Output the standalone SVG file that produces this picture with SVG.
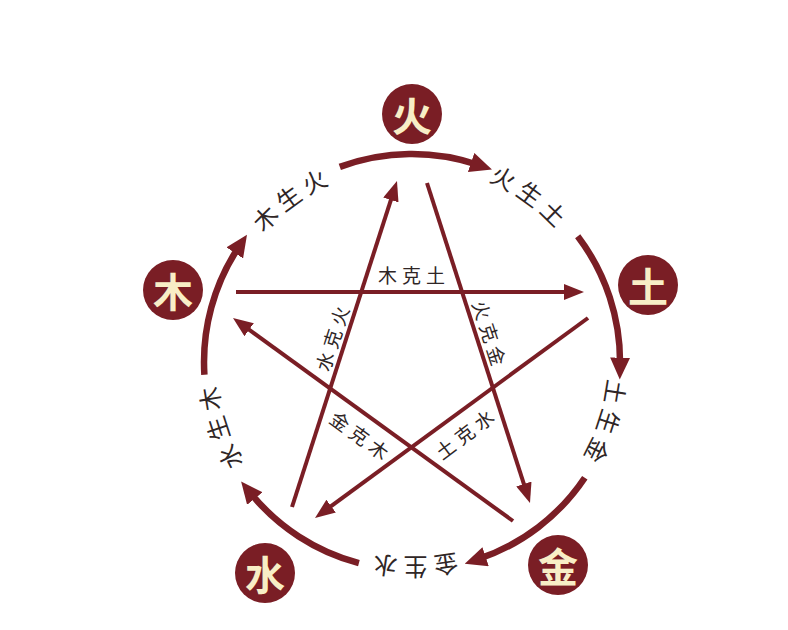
<svg xmlns="http://www.w3.org/2000/svg" width="788" height="630" viewBox="0 0 788 630">
<style>
.node{fill:#7a1e25}
.nl{fill:#f8eec6;font-family:"Noto Sans CJK SC","Noto Sans",sans-serif;font-weight:bold;font-size:40px;text-anchor:middle;dominant-baseline:central}
.arc{fill:none;stroke:#7a1e25;stroke-width:6.5;marker-end:url(#bigArrow)}
.ln{fill:none;stroke:#7a1e25;stroke-width:4;marker-end:url(#arrow)}
.rl{fill:#2f2626;font-family:"Noto Sans CJK SC","Noto Sans",sans-serif;font-size:24px;letter-spacing:7px;text-anchor:middle;dominant-baseline:central}
.kl{fill:#2f2626;font-family:"Noto Sans CJK SC","Noto Sans",sans-serif;font-size:19px;letter-spacing:5px;text-anchor:middle;dominant-baseline:central}
</style>
<defs>
<marker id="bigArrow" viewBox="0 0 22 20" refX="8" refY="10" markerWidth="22" markerHeight="20" markerUnits="userSpaceOnUse" orient="auto">
<path d="M0,0 L22,10 L0,20 z" fill="#7a1e25"/>
</marker>
<marker id="arrow" viewBox="0 0 20 16" refX="6" refY="8" markerWidth="20" markerHeight="16" markerUnits="userSpaceOnUse" orient="auto">
<path d="M0,0 L20,8 L0,16 z" fill="#7a1e25"/>
</marker>
<path id="ring" d="M412,155 A207,207 0 1,1 412,569 A207,207 0 1,1 412,155"/>
</defs>
<rect width="788" height="630" fill="#ffffff"/>
<g id="connectors">
<path class="arc" d="M339.8,166.9 A208,208 0 0,1 478.7,165"/>
<path class="arc" d="M577.7,236.2 A208,208 0 0,1 620,365.6"/>
<path class="arc" d="M584.8,477.7 A208,208 0 0,1 478,559.2"/>
<path class="arc" d="M358.9,563.1 A208,208 0 0,1 249.9,492.3"/>
<path class="arc" d="M204.4,374.7 A208,208 0 0,1 239.2,246.3"/>
<line class="ln" x1="236" y1="292" x2="570" y2="292"/>
<line class="ln" x1="427" y1="183" x2="525.7" y2="489.7"/>
<line class="ln" x1="588" y1="318" x2="326.3" y2="509.7"/>
<line class="ln" x1="513" y1="521" x2="244.3" y2="326.2"/>
<line class="ln" x1="292" y1="507" x2="392.7" y2="194.3"/>
</g>
<g id="ring-labels">
<text class="rl"><textPath href="#ring" startOffset="90%">木生火</textPath></text>
<text class="rl"><textPath href="#ring" startOffset="10%">火生土</textPath></text>
<text class="rl"><textPath href="#ring" startOffset="30%">土生金</textPath></text>
<text class="rl"><textPath href="#ring" startOffset="50%">金生水</textPath></text>
<text class="rl"><textPath href="#ring" startOffset="70%">水生木</textPath></text>
</g>
<g id="star-labels">
<text class="kl" transform="translate(414,274)">木克土</text>
<text class="kl" transform="translate(332,336) rotate(-72)">水克火</text>
<text class="kl" transform="translate(491,335) rotate(72)">火克金</text>
<text class="kl" transform="translate(362,436) rotate(36)">金克木</text>
<text class="kl" transform="translate(466,432) rotate(-37)">土克水</text>
</g>
<g id="node-huo"><circle class="node" cx="412" cy="114" r="30"/><text class="nl" x="412" y="114">火</text></g>
<g id="node-tu"><circle class="node" cx="648" cy="285" r="30"/><text class="nl" x="648" y="285">土</text></g>
<g id="node-jin"><circle class="node" cx="558" cy="565" r="30"/><text class="nl" x="558" y="565">金</text></g>
<g id="node-shui"><circle class="node" cx="265" cy="573" r="30"/><text class="nl" x="265" y="573">水</text></g>
<g id="node-mu"><circle class="node" cx="173" cy="290" r="30"/><text class="nl" x="173" y="290">木</text></g>
</svg>
